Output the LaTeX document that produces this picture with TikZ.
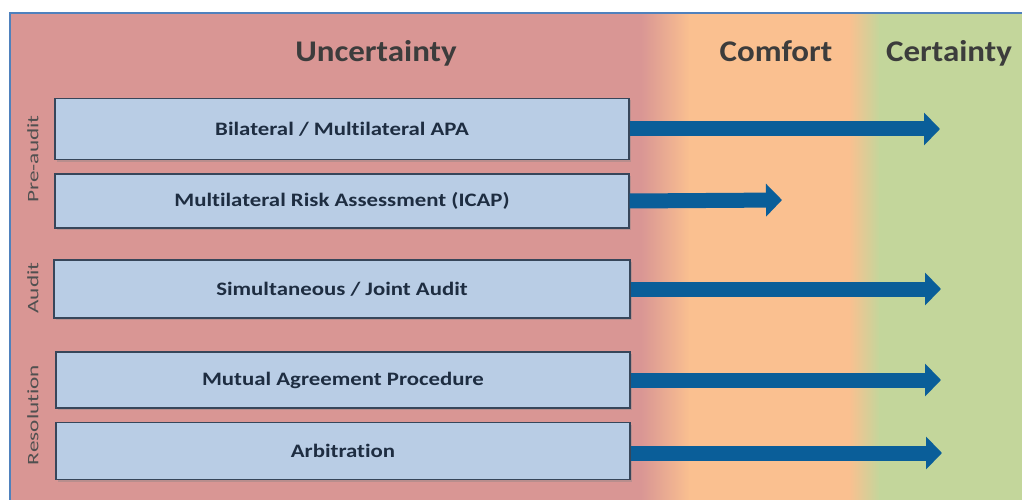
\documentclass[tikz,border=0pt]{standalone}
\usepackage{fontspec}
\setmainfont{Carlito}[Ligatures=CommonOff]
\newfontfamily\boxfont{Carlito}[Ligatures=CommonOff,FakeStretch=1.2]
\newfontfamily\headfont{Carlito}[Ligatures=CommonOff,FakeStretch=1.1]
\newfontfamily\sidefont{Carlito}[Ligatures=CommonOff,FakeStretch=1.45]
\usetikzlibrary{arrows.meta,shadows}
\definecolor{bgred}{RGB}{217,150,148}
\definecolor{bgorange}{RGB}{250,192,144}
\definecolor{bggreen}{RGB}{195,214,155}
\definecolor{frameblue}{RGB}{79,129,189}
\definecolor{boxfill}{RGB}{185,205,229}
\definecolor{boxline}{RGB}{55,70,90}
\definecolor{boxtext}{RGB}{30,45,65}
\definecolor{arrowblue}{RGB}{10,94,153}
\definecolor{headtext}{RGB}{60,60,60}
\definecolor{sidetext}{RGB}{80,80,80}
\tikzset{
  stagebox/.style={draw=boxline, line width=1.2pt, fill=boxfill, inner sep=0pt,
    font=\boxfont\fontsize{19}{22}\selectfont\bfseries, text=boxtext,
    drop shadow={shadow xshift=2pt, shadow yshift=-2pt, opacity=0.35}},
  header/.style={font=\headfont\fontsize{30}{36}\selectfont\bfseries, text=headtext, anchor=base},
  sidelabel/.style={font=\sidefont\fontsize{16}{19}\selectfont, text=sidetext, rotate=90},
  flowarrow/.style={draw=arrowblue, line width=15pt, -{Triangle[length=16pt,width=32pt]}}
}
\begin{document}
\begin{tikzpicture}[x=1pt,y=-1pt]
\useasboundingbox (0,0) rectangle (1022,500);
\fill[white] (0,0) rectangle (1022,500);
% background zones
\fill[bgred] (10,13) rectangle (642,500);
\shade[left color=bgred,right color=bgorange] (641,13) rectangle (690,500);
\fill[bgorange] (689,13) rectangle (850,500);
\shade[left color=bgorange,right color=bggreen] (849,13) rectangle (880,500);
\fill[bggreen] (879,13) rectangle (1022,500);
\draw[frameblue, line width=1.5pt] (10,500) -- (10,13) -- (1022,13);
% headers
\node[header] (hu) at (376,62) {Uncertainty};
\node[header] (hc) at (776,62) {Comfort};
\node[header] (hd) at (949,62) {Certainty};
% side labels
\node[sidelabel] (lpre) at (33,159) {Pre-audit};
\node[sidelabel] (laud) at (33,288) {Audit};
\node[sidelabel] (lres) at (33,415) {Resolution};
% boxes
\node[stagebox, minimum width=574pt, minimum height=61pt] (b1) at (342,129) {Bilateral / Multilateral APA};
\node[stagebox, minimum width=574pt, minimum height=54pt] (b2) at (342,201) {Multilateral Risk Assessment (ICAP)};
\node[stagebox, minimum width=576pt, minimum height=58pt] (b3) at (342,289) {Simultaneous / Joint Audit};
\node[stagebox, minimum width=574pt, minimum height=56pt] (b4) at (343,380) {Mutual Agreement Procedure};
\node[stagebox, minimum width=574pt, minimum height=57pt] (b5) at (343,451) {Arbitration};
% arrows
\coordinate (t1) at (940,129);
\coordinate (t2) at (782,200);
\coordinate (t3) at (941,289);
\coordinate (t4) at (941,380);
\coordinate (t5) at (942,453);
\draw[flowarrow] (b1.east) -- (t1);
\draw[flowarrow] (b2.east) -- (t2);
\draw[flowarrow] (b3.east) -- (t3);
\draw[flowarrow] (b4.east) -- (t4);
\draw[flowarrow] (b5.east |- t5) -- (t5);
\end{tikzpicture}
\end{document}
